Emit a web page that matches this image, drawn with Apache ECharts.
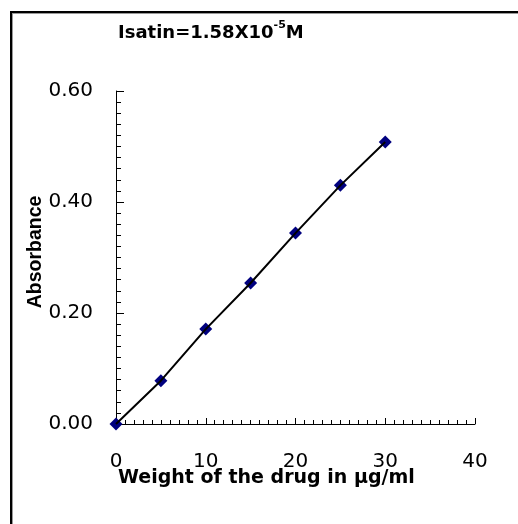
<!DOCTYPE html>
<html>
<head>
<meta charset="utf-8">
<script src="https://cdn.jsdelivr.net/npm/echarts@6/dist/echarts.min.js"></script>
<style>
  html, body { margin: 0; padding: 0; background: #fff; }
  #chart { width: 518px; height: 524px; }
</style>
</head>
<body>
<div id="chart"></div>
<script>
// Calibration data: drug concentration (µg/ml) vs measured absorbance
const concentrations = [0, 5, 10, 15, 20, 25, 30];
const absorbance = [0.000, 0.078, 0.171, 0.254, 0.344, 0.430, 0.508];

// Axis ranges and tick steps
const xRange = [0, 40];
const xStep = 10;
const yRange = [0, 0.6];
const yStep = 0.2;

const titleText = ['Isatin=1.58X10', '-5', 'M'];
const xTitle = 'Weight of the drug in \u00b5g/ml';
const yTitle = 'Absorbance';

const points = concentrations.map((c, i) => [c, absorbance[i]]);

const chart = echarts.init(document.getElementById('chart'), null, { renderer: 'canvas' });

const tickFont = '"DejaVu Sans", sans-serif';

chart.setOption({
  animation: false,
  backgroundColor: '#fff',
  title: {
    text: '{b|' + titleText[0] + '}{s|' + titleText[1] + '}{b|' + titleText[2] + '}',
    left: 118,
    top: 20,
    padding: 0,
    textStyle: {
      rich: {
        b: { fontFamily: tickFont, fontWeight: 'bold', fontSize: 18, lineHeight: 22, color: '#000', verticalAlign: 'bottom' },
        s: { fontFamily: tickFont, fontSize: 11, lineHeight: 11, color: '#000', verticalAlign: 'top' }
      }
    }
  },
  grid: {
    left: 116,
    top: 91,
    right: 43,
    bottom: 100,
    containLabel: false,
    outerBoundsMode: 'none'
  },
  xAxis: {
    type: 'value',
    min: xRange[0],
    max: xRange[1],
    interval: xStep,
    splitLine: { show: false },
    axisLine: { show: true, onZero: false, lineStyle: { color: '#000', width: 1 } },
    axisTick: { show: true, inside: true, length: 6, lineStyle: { color: '#000', width: 1 } },
    minorTick: { show: true, splitNumber: 10, length: 4, lineStyle: { color: '#000', width: 1 } },
    axisLabel: { margin: 28, color: '#000', fontFamily: tickFont, fontSize: 20 }
  },
  yAxis: {
    type: 'value',
    min: yRange[0],
    max: yRange[1],
    interval: yStep,
    splitLine: { show: false },
    axisLine: { show: true, onZero: false, lineStyle: { color: '#000', width: 1 } },
    axisTick: { show: true, inside: true, length: 8, lineStyle: { color: '#000', width: 1 } },
    minorTick: { show: true, splitNumber: 10, length: 5, lineStyle: { color: '#000', width: 1 } },
    axisLabel: {
      margin: 23, color: '#000', fontFamily: tickFont, fontSize: 20,
      formatter: v => v.toFixed(2)
    }
  },
  series: [
    {
      name: 'Readings',
      type: 'scatter',
      data: points,
      symbol: 'diamond',
      symbolSize: 13,
      itemStyle: { color: '#00007f', opacity: 1 },
      z: 2
    },
    {
      name: 'Fit',
      type: 'line',
      data: points,
      showSymbol: false,
      symbol: 'none',
      lineStyle: { color: '#000', width: 2 },
      z: 3
    }
  ],
  graphic: [
    // frame
    { type: 'rect', shape: { x: 10, y: 11, width: 508, height: 2 }, style: { fill: '#000' }, silent: true },
    { type: 'rect', shape: { x: 12, y: 13, width: 506, height: 1 }, style: { fill: '#999' }, silent: true },
    { type: 'rect', shape: { x: 10, y: 11, width: 2, height: 513 }, style: { fill: '#000' }, silent: true },
    { type: 'rect', shape: { x: 12, y: 13, width: 1, height: 511 }, style: { fill: '#999' }, silent: true },
    // axis titles
    {
      type: 'text', x: 118, y: 469, silent: true,
      style: { text: xTitle, font: 'bold 19px "DejaVu Sans", sans-serif', fill: '#000', textAlign: 'left', textVerticalAlign: 'top' }
    },
    {
      type: 'text', x: 36, y: 252, rotation: Math.PI / 2, silent: true,
      style: { text: yTitle, font: 'bold 19.5px "Liberation Sans", Arial, sans-serif', fill: '#000', textAlign: 'center', textVerticalAlign: 'middle' }
    }
  ]
});
</script>
</body>
</html>
